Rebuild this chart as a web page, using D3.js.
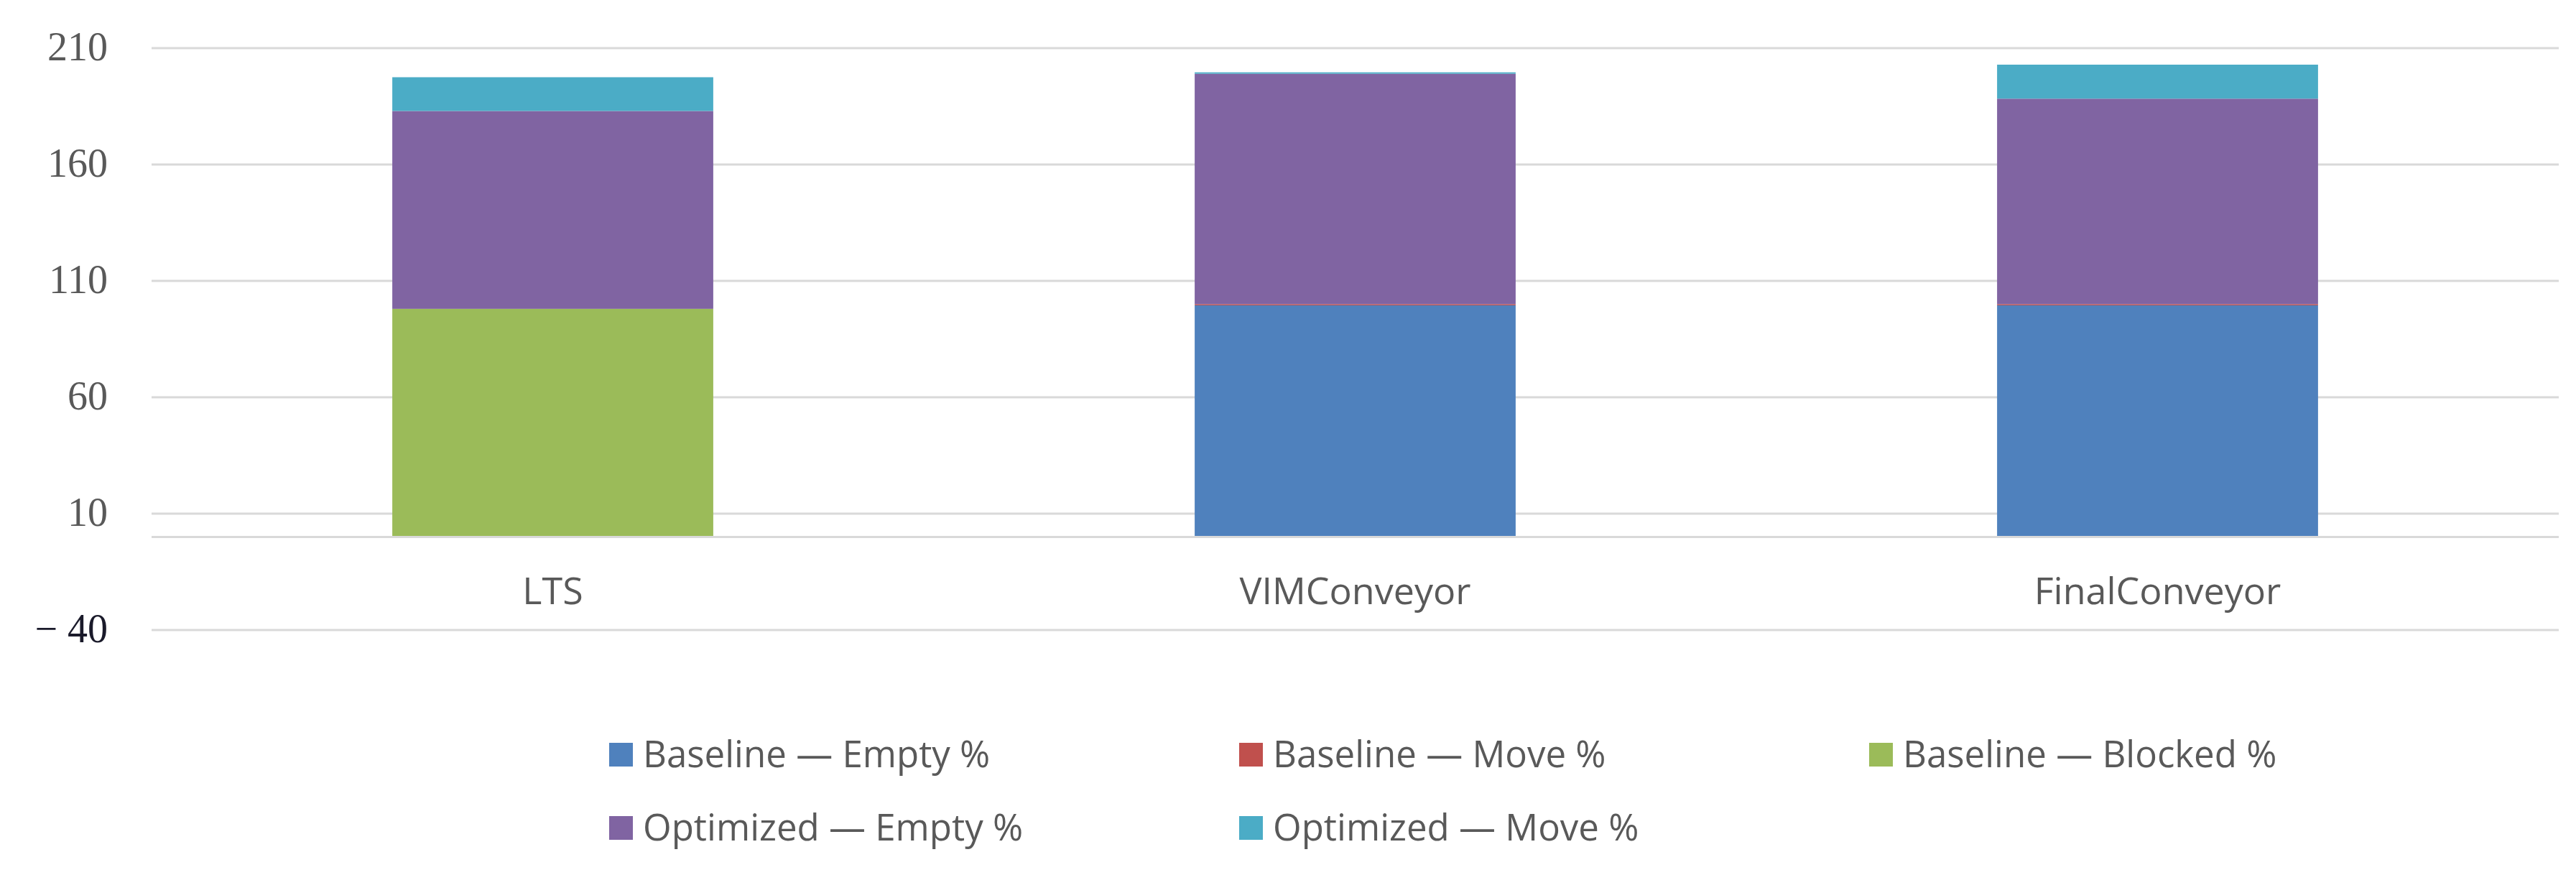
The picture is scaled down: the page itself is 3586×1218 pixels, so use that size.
<!DOCTYPE html>
<html>
<head>
<meta charset="utf-8">
<script src="https://cdn.jsdelivr.net/npm/d3@7"></script>
<style>
  html, body { margin: 0; padding: 0; background: #ffffff; }
  svg { display: block; }
</style>
</head>
<body>
<svg id="chart" width="3586" height="1218"></svg>
<script>
// ---- data ----
const categories = ["LTS", "VIMConveyor", "FinalConveyor"];
const seriesNames = ["Baseline — Empty %", "Baseline — Move %", "Baseline — Blocked %", "Optimized — Empty %", "Optimized — Move %"];
const baselineEmpty   = [0, 99.5, 99.5];
const baselineMove    = [0, 0.5, 0.5];
const baselineBlocked = [98, 0, 0];
const optimizedEmpty  = [85, 99, 88.3];
const optimizedMove   = [14.5, 0.6, 14.6];
const yTicks = [-40, 10, 60, 110, 160, 210];
const seriesColors = ["#4F81BD", "#C0504D", "#9BBB59", "#8064A2", "#4BACC6"];

// ---- table for d3.stack ----
const seriesValues = [baselineEmpty, baselineMove, baselineBlocked, optimizedEmpty, optimizedMove];
const table = categories.map((c, i) => {
  const row = { category: c };
  seriesNames.forEach((s, k) => { row[s] = seriesValues[k][i]; });
  return row;
});

const svg = d3.select("#chart");
const plot = { left: 211, right: 3562, top: 67, bottom: 877 };

const x = d3.scaleBand()
  .domain(categories)
  .range([plot.left, plot.right])
  .paddingInner(0.6)
  .paddingOuter(0.3);

const y = d3.scaleLinear()
  .domain([-40, 210])
  .range([plot.bottom, plot.top]);

const color = d3.scaleOrdinal().domain(seriesNames).range(seriesColors);

// gridlines
svg.append("g")
  .selectAll("line")
  .data(yTicks)
  .join("line")
  .attr("x1", plot.left).attr("x2", plot.right)
  .attr("y1", d => y(d)).attr("y2", d => y(d))
  .attr("stroke", "#d9d9d9").attr("stroke-width", 3);

// y axis labels
const yAxis = d3.axisLeft(y)
  .tickValues(yTicks)
  .tickSize(0)
  .tickPadding(0)
  .tickFormat(d => d < 0 ? "\u2212 " + Math.abs(d) : String(d));
const yg = svg.append("g").attr("transform", "translate(150,0)").call(yAxis);
yg.select(".domain").remove();
yg.selectAll("text")
  .attr("font-family", "'Liberation Serif', 'Times New Roman', serif")
  .attr("font-size", 56)
  .attr("dy", "0.3em")
  .attr("fill", d => d < 0 ? "#1a1a2a" : "#595959");

// bars
const stacked = d3.stack().keys(seriesNames)(table);
svg.append("g")
  .selectAll("g")
  .data(stacked)
  .join("g")
  .attr("fill", d => color(d.key))
  .selectAll("rect")
  .data(d => d)
  .join("rect")
  .attr("x", d => x(d.data.category))
  .attr("width", x.bandwidth())
  .attr("y", d => y(d[1]))
  .attr("height", d => Math.max(0, y(d[0]) - y(d[1])));

// category axis line at zero
svg.append("line")
  .attr("x1", plot.left).attr("x2", plot.right)
  .attr("y1", y(0)).attr("y2", y(0))
  .attr("stroke", "#d9d9d9").attr("stroke-width", 3);

// category labels
const xAxis = d3.axisBottom(x).tickSize(0).tickPadding(0);
const xg = svg.append("g").attr("transform", `translate(0,${y(0)})`).call(xAxis);
xg.select(".domain").remove();
xg.selectAll("text")
  .attr("font-family", "'Open Sans', 'Noto Sans', sans-serif")
  .attr("font-size", 52)
  .attr("fill", "#595959")
  .attr("dy", null)
  .attr("y", 94);

// legend
const legendCols = [848, 1725, 2602];
const legendRows = [1068, 1170];
const legend = svg.append("g")
  .selectAll("g")
  .data(seriesNames)
  .join("g")
  .attr("transform", (d, i) => `translate(${legendCols[i % 3]},${legendRows[Math.floor(i / 3)]})`);
legend.append("rect")
  .attr("x", 0).attr("y", -34)
  .attr("width", 33).attr("height", 33)
  .attr("fill", d => color(d));
legend.append("text")
  .attr("x", 47).attr("y", 0)
  .attr("font-family", "'Open Sans', 'Noto Sans', sans-serif")
  .attr("font-size", 51)
  .attr("fill", "#595959")
  .text(d => d);
</script>
</body>
</html>
